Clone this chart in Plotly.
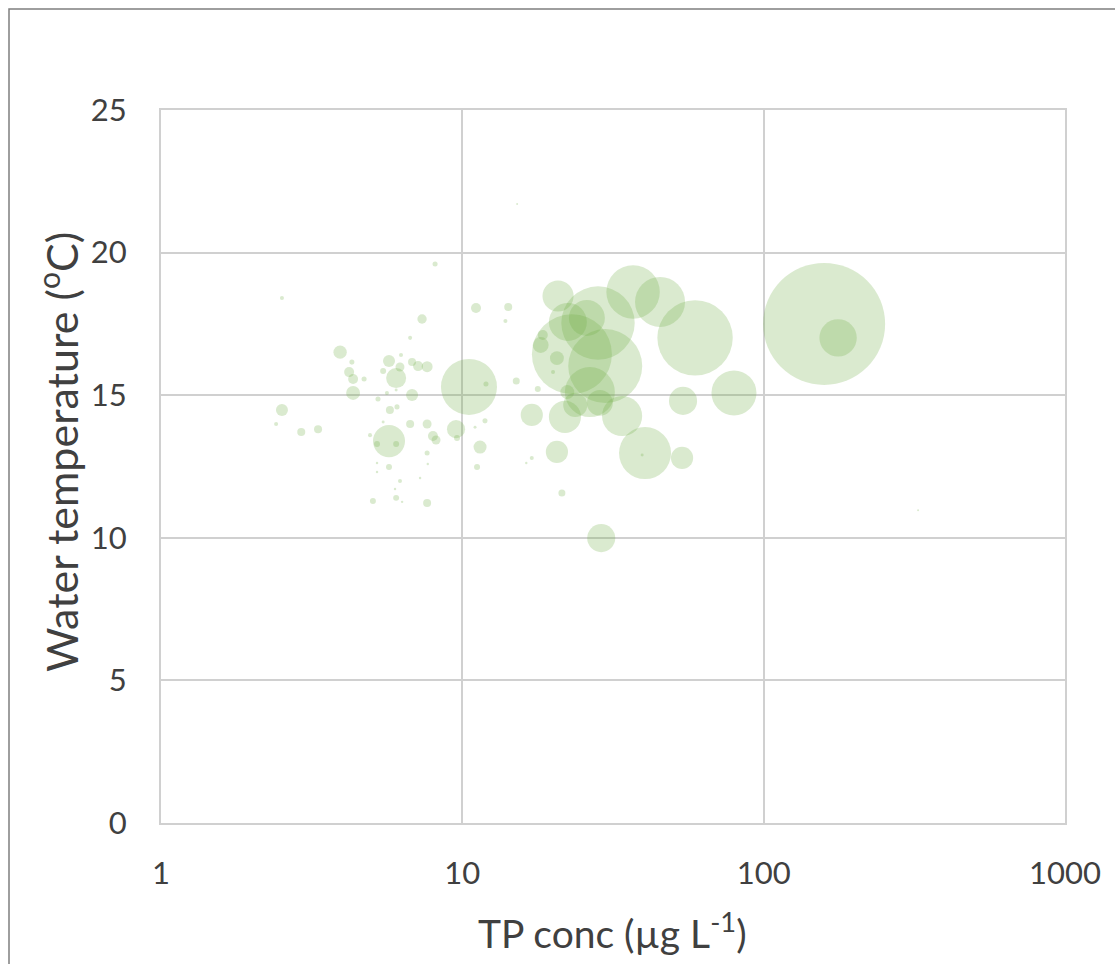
import plotly.graph_objects as go

# Lake survey: total phosphorus vs. water temperature, bubble area = relative biomass
tp_conc = [
    8.12, 2.52, 11.1, 14.2, 13.9, 7.35, 6.71, 3.93, 4.30, 4.21,
    4.34, 4.72, 4.34, 5.25, 5.71, 5.46, 6.26, 6.21, 6.03, 6.81,
    7.13, 7.64, 6.81, 5.62, 6.03, 5.75, 6.07, 6.71, 7.64, 7.99,
    8.18, 9.53, 9.60, 11.45, 11.19, 11.89, 10.52, 11.98, 2.52, 2.41,
    2.92, 3.32, 5.71, 5.21, 6.03, 5.46, 4.94, 7.64, 5.71, 6.21,
    7.24, 5.21, 5.21, 5.98, 5.05, 6.03, 7.64, 6.31, 7.68, 11.02,
    20.78, 36.87, 45.3, 28.2, 25.9, 22.4, 23.1, 29.8, 59.2, 26.5,
    18.2, 18.5, 20.6, 20.0, 15.1, 17.8, 22.3, 23.7, 21.9, 17.0,
    28.6, 33.9, 54.0, 79.7, 40.4, 53.6, 20.6, 17.0, 16.3, 21.4,
    28.9, 39.5, 158.7, 176.6, 325.4, 15.2,
]
water_temp = [
    19.60, 18.41, 18.06, 18.09, 17.60, 17.67, 17.01, 16.51, 16.16, 15.81,
    15.57, 15.57, 15.08, 14.87, 16.20, 15.85, 16.41, 15.99, 15.60, 16.16,
    16.02, 16.00, 15.01, 15.08, 15.18, 14.48, 14.59, 13.99, 13.99, 13.57,
    13.43, 13.81, 13.50, 13.18, 12.48, 14.10, 15.29, 15.39, 14.48, 13.99,
    13.71, 13.81, 13.39, 13.29, 13.29, 14.06, 13.60, 12.97, 12.48, 11.99,
    12.10, 12.62, 12.31, 11.71, 11.29, 11.40, 11.22, 11.26, 12.59, 13.88,
    18.48, 18.62, 18.27, 17.53, 17.71, 17.57, 16.44, 16.02, 17.01, 15.11,
    16.76, 17.11, 16.30, 15.81, 15.50, 15.22, 15.11, 14.66, 14.24, 14.31,
    14.73, 14.27, 14.80, 15.08, 12.97, 12.80, 13.01, 12.80, 12.62, 11.57,
    9.99, 12.90, 17.50, 17.01, 10.97, 21.70,
]
biomass = [
    0.17, 0.11, 0.67, 0.43, 0.11, 0.59, 0.11, 1.2, 0.17, 0.67,
    0.67, 0.17, 1.3, 0.17, 0.97, 0.24, 0.11, 0.54, 2.7, 0.43,
    0.67, 0.81, 0.97, 0.11, 0.06, 0.43, 0.17, 0.43, 0.54, 0.67,
    0.54, 2.2, 0.24, 1.14, 0.24, 0.17, 21.1, 0.17, 0.97, 0.11,
    0.43, 0.43, 6.9, 0.24, 0.24, 0.06, 0.11, 0.17, 0.24, 0.11,
    0.04, 0.04, 0.04, 0.04, 0.24, 0.24, 0.43, 0.04, 0.04, 0.06,
    6.5, 19.2, 16.8, 36.2, 8.7, 9.7, 43.0, 36.8, 38.2, 16.8,
    1.7, 0.67, 1.3, 0.11, 0.33, 0.24, 1.3, 3.9, 6.9, 3.3,
    4.5, 10.8, 5.3, 13.6, 18.2, 3.3, 3.3, 0.11, 0.04, 0.33,
    5.3, 0.06, 100.0, 9.4, 0.027, 0.027,
]

y_ticks = [0, 5, 10, 15, 20, 25]
x_ticks = [1, 10, 100, 1000]
x_tick_text = ["1", "10", "100", "1000"]

x_title = "TP conc (µg L<sup>-1</sup>)"
y_title = "Water temperature (<sup>o</sup>C)"

max_radius_px = 61
sizeref = max(biomass) / (2 * max_radius_px ** 2)

FONT = "Lato"
TEXT_COLOR = "#404040"
GRID = "#d0d0d0"

fig = go.Figure(
    go.Scatter(
        x=tp_conc,
        y=water_temp,
        mode="markers",
        marker=dict(
            size=biomass,
            sizemode="area",
            sizeref=sizeref,
            sizemin=1,
            color="rgba(112,173,71,0.37)",
            line=dict(width=0),
        ),
        hoverinfo="x+y",
    )
)

axis_common = dict(
    showgrid=True,
    gridcolor=GRID,
    gridwidth=2,
    showline=True,
    mirror=True,
    linecolor=GRID,
    linewidth=2,
    zeroline=False,
    ticks="",
    tickfont=dict(family=FONT, size=31, color=TEXT_COLOR),
)
fig.update_xaxes(
    type="log",
    range=[0, 3],
    tickvals=x_ticks,
    ticktext=x_tick_text,
    ticklabelstandoff=22,
    **axis_common,
)
fig.update_yaxes(
    range=[0, 25],
    tickvals=y_ticks,
    ticklabelstandoff=26,
    **axis_common,
)

# axis titles placed as free text so they sit where the chart layout puts them
fig.add_annotation(
    text=x_title, xref="paper", yref="paper",
    x=(612 - 161) / 904, y=(823 - 931) / 713,
    xanchor="center", yanchor="middle", showarrow=False,
    font=dict(family=FONT, size=39, color=TEXT_COLOR),
)
fig.add_annotation(
    text=y_title, xref="paper", yref="paper",
    x=(58 - 161) / 904, y=(823 - 452) / 713,
    xanchor="center", yanchor="middle", showarrow=False, textangle=-90,
    font=dict(family=FONT, size=43, color=TEXT_COLOR),
)

# outer chart frame
fig.add_shape(
    type="rect",
    xref="paper", yref="paper",
    x0=(9 - 161) / 904, x1=1.3,
    y0=-0.4, y1=(823 - 9) / 713,
    line=dict(color="#7f7f7f", width=1.5),
    fillcolor="rgba(0,0,0,0)",
    layer="below",
)

fig.update_layout(
    width=1115,
    height=964,
    margin=dict(l=161, r=50, t=110, b=141, autoexpand=False),
    plot_bgcolor="white",
    paper_bgcolor="white",
    showlegend=False,
)

fig.write_html("out.html")
